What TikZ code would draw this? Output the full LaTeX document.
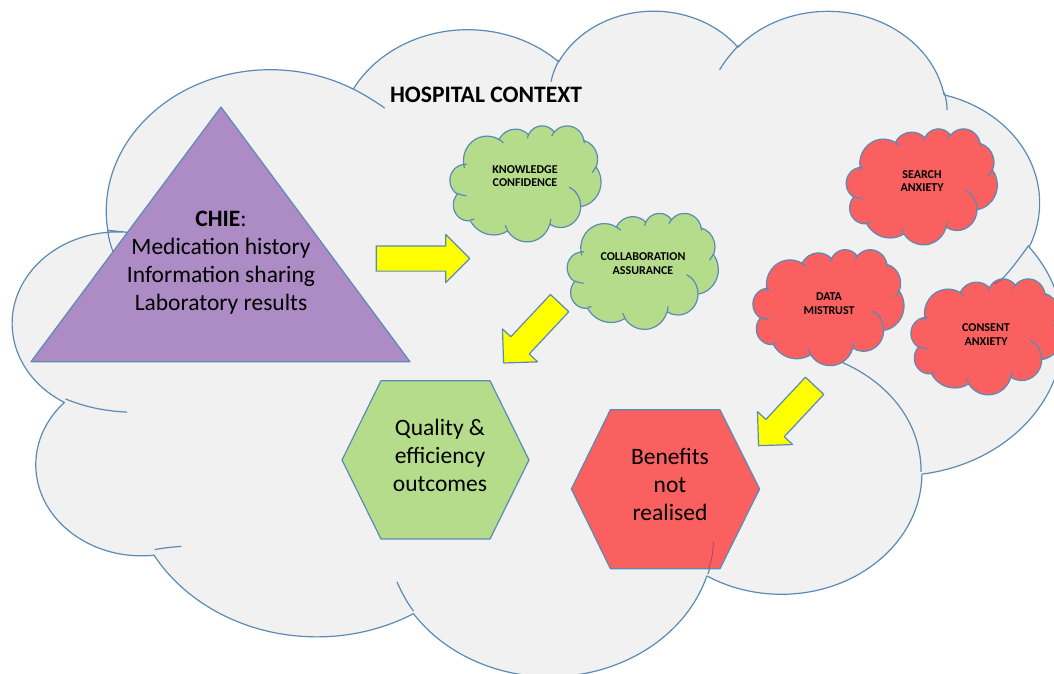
\documentclass[tikz,border=0pt]{standalone}
\usepackage{fontspec}
\setmainfont{Carlito}
\usetikzlibrary{shapes.arrows}
\definecolor{edgeblue}{HTML}{5B8BB5}
\definecolor{cloudgrey}{HTML}{F1F1F1}
\definecolor{leaf}{HTML}{B5DC8B}
\definecolor{coral}{HTML}{FA6060}
\definecolor{lilac}{HTML}{AD8BC4}
\definecolor{sun}{HTML}{FFFF00}
\definecolor{tailred}{HTML}{B8405C}
\tikzset{
  outline/.style={draw=edgeblue,line width=1.2pt,line join=round},
  blockarrow/.style={shape=single arrow,outline,fill=sun,inner sep=12pt,minimum width=47pt,
    single arrow head extend=11.5pt,anchor=tip},
  bigtext/.style={font=\fontsize{23.5}{28}\selectfont,align=center,text=black,inner sep=0pt},
  titletext/.style={font=\fontsize{23.6}{26}\selectfont\bfseries,inner sep=0pt},
  smalltext/.style={font=\fontsize{12}{13.7}\selectfont\bfseries,align=center,text=black,inner sep=0pt},
}
% one arc of the cloud: name, width radius, height radius, start, sweep (degrees, y down)
\newcommand\setarc[5]{%
  \pgfmathsetmacro\ta{atan2(#2*sin(#4),#3*cos(#4))}%
  \pgfmathsetmacro\tb{atan2(#2*sin(#4+#5),#3*cos(#4+#5))}%
  \pgfmathsetmacro\tb{ifthenelse(\tb<\ta,\tb+360,\tb)}%
  \expandafter\xdef\csname #1\endcsname{arc[start angle=\ta,end angle=\tb,x radius=#2pt,y radius=#3pt]}%
}
\setarc{cloudA}{67.53}{91.90}{-190.4875}{123.7805}
\setarc{cloudB}{53.33}{72.67}{-144.1024}{89.9452}
\setarc{cloudC}{43.65}{59.45}{-145.8079}{99.7230}
\setarc{cloudD}{48.57}{65.95}{-130.9861}{117.2417}
\setarc{cloudE}{53.33}{72.73}{-78.7089}{109.0269}
\setarc{cloudF}{67.75}{92.20}{-46.2673}{130.2690}
\setarc{cloudG}{57.85}{78.67}{0.6250}{114.0333}
\setarc{cloudH}{67.52}{92.15}{22.4516}{115.1726}
\setarc{cloudI}{77.20}{105.43}{66.2426}{75.7110}
\setarc{cloudJ}{43.60}{59.18}{-274.9421}{146.7356}
\setarc{cloudK}{43.45}{59.45}{-246.8285}{160.4128}
\newcommand\cloudshape{(39,143.7) \cloudA \cloudB \cloudC \cloudD \cloudE \cloudF \cloudG \cloudH \cloudI \cloudJ \cloudK -- cycle}
\newcommand\cloudtails[1]{%
  \draw[#1] (46.93,261.77) .. controls (37,261) and (29,258) .. (21.6,253.2);
  \draw[#1] (69.28,348.99) .. controls (65.5,349.3) and (62,350) .. (58.3,351);
  \draw[#1] (164.78,390.9) .. controls (162,385) and (160,379) .. (158,372);
  \draw[#1] (288.27,347.51) .. controls (288,354) and (287.3,361) .. (286,366.9);
  \draw[#1] (341.29,229.54) .. controls (358,241) and (373.7,265) .. (373.7,300.6);
  \draw[#1] (417.98,153.54) .. controls (414.5,161) and (411,169) .. (406.6,176);
  \draw[#1] (383.24,54.26) .. controls (384,58) and (384.4,62) .. (384.4,65.6);
  \draw[#1] (290.78,39.52) .. controls (293,33.5) and (296,28) .. (298.8,23.4);
  \draw[#1] (221.41,47.20) .. controls (222,42) and (223.5,37) .. (224.7,33.1);
  \draw[#1] (140,51.92) .. controls (144.5,55.5) and (149,60) .. (153,64.3);
  \draw[#1] (41.27,157.89) .. controls (40,153) and (39.3,148) .. (38.9,143.5);
}
\newcommand\pptcloud[5]{%
 \begin{scope}[shift={(#1,#2)},xscale=#3,yscale=-#4,x=1pt,y=1pt]
  \draw[outline,fill=#5] \cloudshape;
  \cloudtails{outline}
 \end{scope}}
\begin{document}
\begin{tikzpicture}[x=1pt,y=-1pt]
\useasboundingbox (0,0) rectangle (1054,674);
\clip (0,0) rectangle (1054,674);
\fill[white] (0,0) rectangle (1054,674);
% big cloud
\pptcloud{13}{9}{2.43}{1.54}{cloudgrey}
% triangle and hexagons
\draw[outline,fill=lilac] (221,107)--(410,361.7)--(31,361.7)--cycle;
\draw[outline,fill=leaf] (342,460)--(381,380.7)--(490,380.7)--(529,460)--(490,539)--(381,539)--cycle;
\draw[outline,fill=coral] (571.4,489)--(610.4,409.7)--(720,409.7)--(759.6,489)--(720,568.7)--(610.4,568.7)--cycle;
\draw[tailred,line width=0.8pt] plot[smooth] coordinates {(713.5,542)(712,557)(708.6,568.5)};
% block arrows
\node[blockarrow,minimum height=93.6pt] (arrowchie) at (470.6,258.5) {};
\node[blockarrow,minimum height=82pt,rotate=226.9] (arrowgood) at (503,363.6) {};
\node[blockarrow,minimum height=82pt,rotate=226.9] (arrowbad) at (758,446.3) {};
% small clouds
\pptcloud{450}{125.5}{0.3495}{0.2685}{leaf}
\pptcloud{567.3}{213}{0.3495}{0.2685}{leaf}
\pptcloud{846.3}{128.5}{0.3495}{0.2685}{coral}
\pptcloud{753}{249.3}{0.3495}{0.2685}{coral}
\pptcloud{911}{278.5}{0.3495}{0.2685}{coral}
\draw[tailred,line width=0.8pt] plot[smooth] coordinates {(994,284)(997,282.5)(1001,280)};
% texts
\node[titletext] (title) at (486,95) {HOSPITAL CONTEXT};
\node[bigtext] (chie) at (221,262.5) {\textbf{CHIE}:\\Medication history\\Information sharing\\Laboratory results};
\node[bigtext] (quality) at (440,455.5) {Quality \&\\efficiency\\outcomes};
\node[bigtext] (benefits) at (670,484.5) {Benefits\\not\\realised};
\node[smalltext] (know) at (525,176) {KNOWLEDGE\\CONFIDENCE};
\node[smalltext] (collab) at (643,263.5) {COLLABORATION\\ASSURANCE};
\node[smalltext] (search) at (922,181) {SEARCH\\ANXIETY};
\node[smalltext] (data) at (829,304) {DATA\\MISTRUST};
\node[smalltext] (consent) at (986,334.5) {CONSENT\\ANXIETY};
\end{tikzpicture}
\end{document}
